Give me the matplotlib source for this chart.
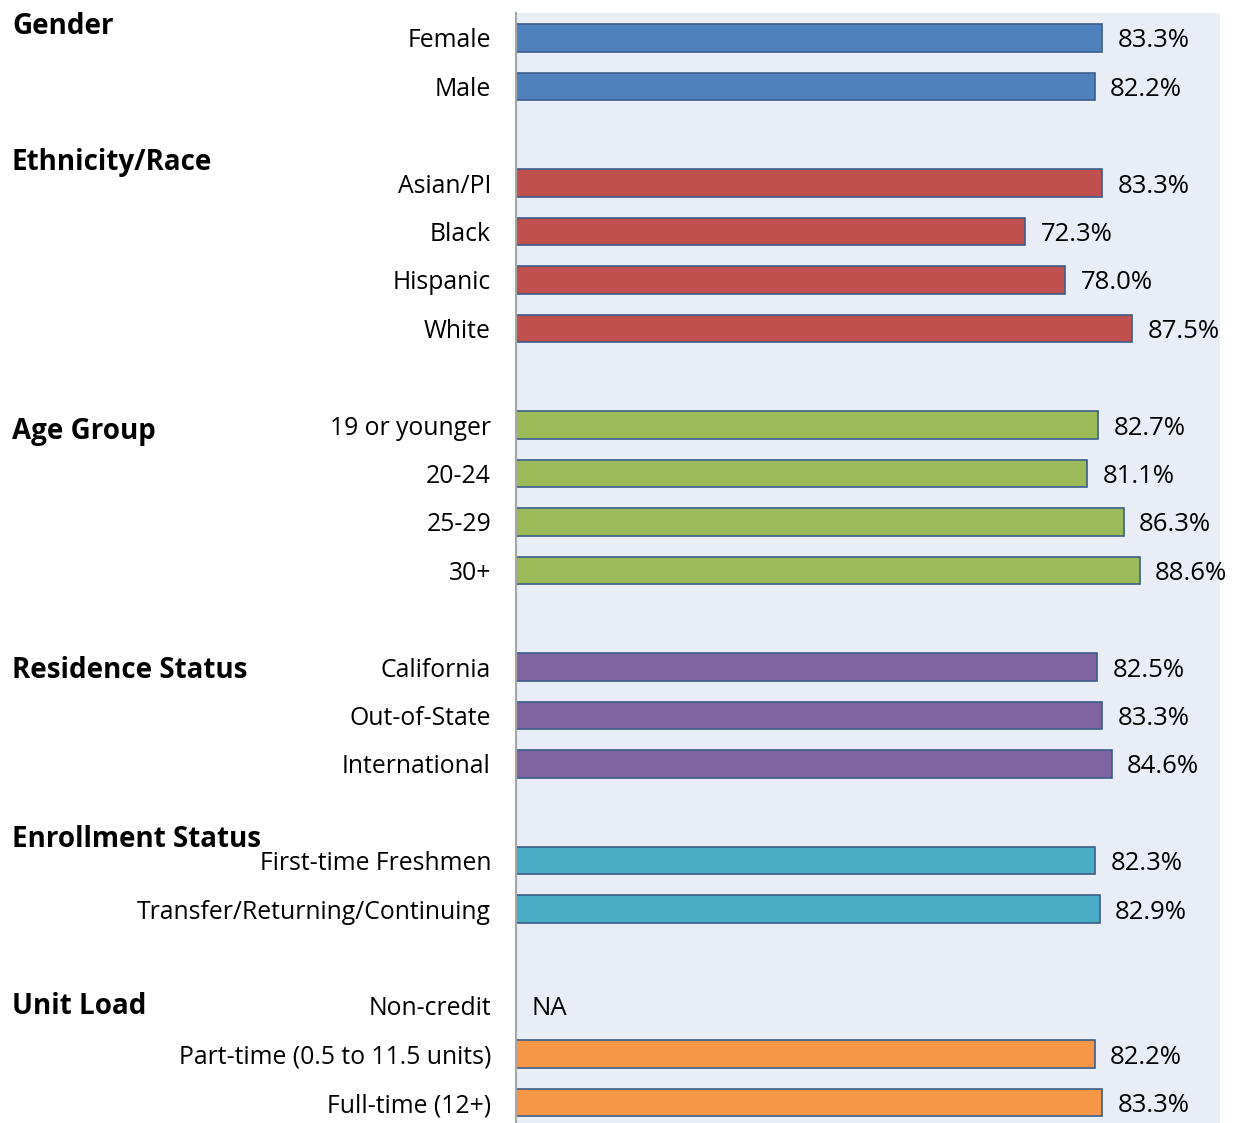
import matplotlib.pyplot as plt
from matplotlib.transforms import blended_transform_factory

plt.rcParams['font.family'] = ['Open Sans', 'DejaVu Sans']

# rows from top to bottom; None = empty spacer row
categories = ['Female', 'Male', None,
              'Asian/PI', 'Black', 'Hispanic', 'White', None,
              '19 or younger', '20-24', '25-29', '30+', None,
              'California', 'Out-of-State', 'International', None,
              'First-time Freshmen', 'Transfer/Returning/Continuing', None,
              'Non-credit', 'Part-time (0.5 to 11.5 units)', 'Full-time (12+)']
values = [83.3, 82.2, None,
          83.3, 72.3, 78.0, 87.5, None,
          82.7, 81.1, 86.3, 88.6, None,
          82.5, 83.3, 84.6, None,
          82.3, 82.9, None,
          None, 82.2, 83.3]
groups = ['gender', 'gender', None,
          'eth', 'eth', 'eth', 'eth', None,
          'age', 'age', 'age', 'age', None,
          'res', 'res', 'res', None,
          'enr', 'enr', None,
          'unit', 'unit', 'unit']
group_titles = ['Gender', 'Ethnicity/Race', 'Age Group', 'Residence Status',
                'Enrollment Status', 'Unit Load']
group_title_rows = [-0.3, 2.5, 8.05, 13.0, 16.5, 19.95]

colores = {'gender': '#4F81BD', 'eth': '#C0504D', 'age': '#9BBB59',
           'res': '#8064A2', 'enr': '#4BACC6', 'unit': '#F79646'}

fig = plt.figure(figsize=(12.42, 11.23), dpi=100)
ax = fig.add_axes([516 / 1242, 0.0, (1220 - 516) / 1242, 1 - 13 / 1123])
ax.set_facecolor('#E9EDF5')

for i, (cat, val, g) in enumerate(zip(categories, values, groups)):
    if cat is None:
        continue
    if val is None:
        ax.text(2.2, i, 'NA', va='center_baseline', ha='left', fontsize=18.5)
        continue
    ax.barh(i, val, height=0.57, color=colores[g], edgecolor='#3B5E8C', linewidth=1.2)
    ax.text(val + 2.2, i, f'{val:.1f}%', va='center_baseline', ha='left', fontsize=18.5)

ticks = [i for i, c in enumerate(categories) if c is not None]
ax.set_yticks(ticks)
ax.set_yticklabels([categories[i] for i in ticks], fontsize=17.8, va='center_baseline')
ax.tick_params(axis='y', length=0, pad=18)
ax.set_xticks([])
ax.set_xlim(0, 100)
ax.set_ylim(22.42, -0.516)

for lado in ['top', 'right', 'bottom']:
    ax.spines[lado].set_visible(False)
ax.spines['left'].set_color('#A6A6A6')
ax.spines['left'].set_linewidth(1.5)

trans = blended_transform_factory(fig.transFigure, ax.transData)
for titulo, fila in zip(group_titles, group_title_rows):
    ax.text(12 / 1242, fila, titulo, transform=trans, ha='left', va='center_baseline',
            fontsize=20, fontweight='bold')

fig.savefig('out.png', dpi=100)
